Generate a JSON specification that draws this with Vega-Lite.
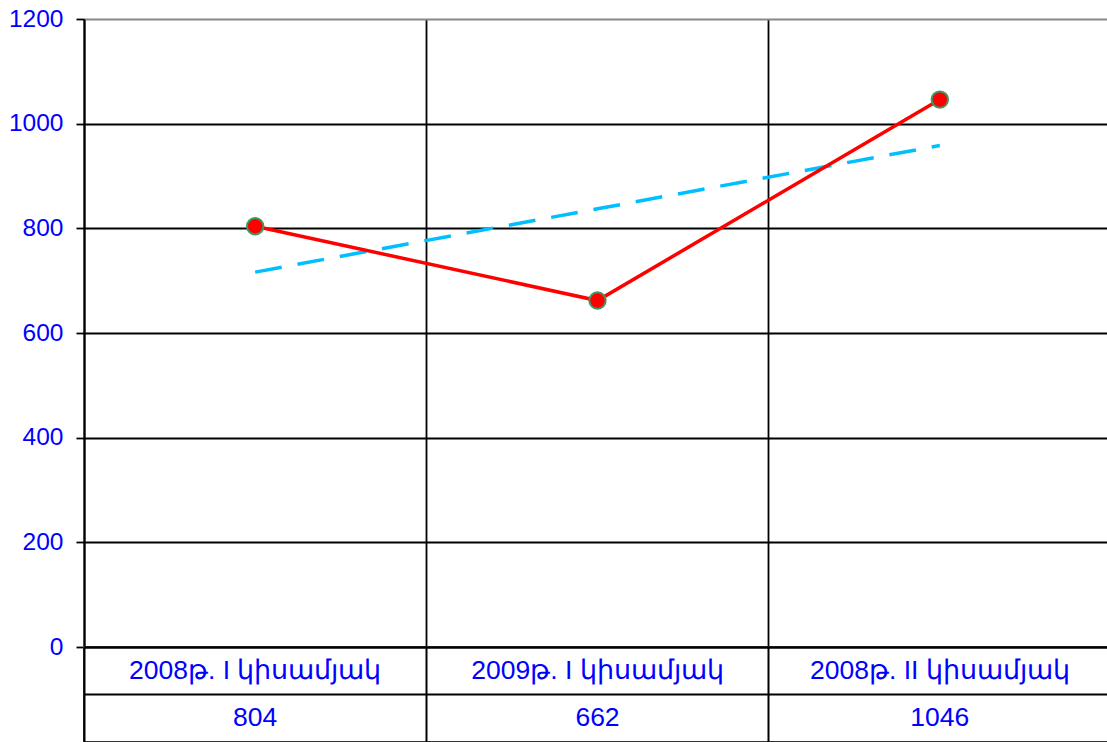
{
  "$schema": "https://vega.github.io/schema/vega-lite/v6.json",
  "padding": {"left": 0, "top": 6, "right": 0, "bottom": 0},
  "background": "white",
  "spacing": 0,
  "bounds": "flush",
  "config": {
    "font": "Liberation Sans",
    "concat": {"spacing": 0}
  },
  "datasets": {
    "series": [
      {"cat": "2008թ. I կիսամյակ", "value": 804, "trend": 716.3},
      {"cat": "2009թ. I կիսամյակ", "value": 662, "trend": 837.3},
      {"cat": "2008թ. II կիսամյակ", "value": 1046, "trend": 958.3}
    ],
    "table": [
      {"cat": "2008թ. I կիսամյակ", "row": "label", "text": "2008թ. I կիսամյակ"},
      {"cat": "2009թ. I կիսամյակ", "row": "label", "text": "2009թ. I կիսամյակ"},
      {"cat": "2008թ. II կիսամյակ", "row": "label", "text": "2008թ. II կիսամյակ"},
      {"cat": "2008թ. I կիսամյակ", "row": "value", "text": "804"},
      {"cat": "2009թ. I կիսամյակ", "row": "value", "text": "662"},
      {"cat": "2008թ. II կիսամյակ", "row": "value", "text": "1046"}
    ]
  },
  "vconcat": [
    {
      "width": 1027,
      "height": 628,
      "view": {"stroke": null},
      "data": {"name": "series"},
      "encoding": {
        "x": {
          "field": "cat",
          "type": "nominal",
          "sort": null,
          "bandPosition": 0.5,
          "scale": {"type": "band", "paddingInner": 0, "paddingOuter": 0},
          "axis": {
            "title": null, "labels": false, "ticks": false, "domain": false,
            "grid": true, "bandPosition": 0, "gridColor": "#000000", "gridWidth": 1.8, "gridOpacity": 1
          }
        }
      },
      "layer": [
        {
          "mark": {"type": "line", "color": "#00BFFF", "strokeWidth": 3.5, "strokeDash": [27, 16]},
          "encoding": {
            "y": {
              "field": "trend", "type": "quantitative",
              "scale": {"domain": [0, 1200], "nice": false, "zero": true},
              "axis": {
                "title": null,
                "values": [0, 200, 400, 600, 800, 1000, 1200],
                "format": "d",
                "labelColor": "#0000FF",
                "labelFontSize": 24.5,
                "labelFont": "Liberation Sans",
                "labelPadding": 13,
                "tickSize": 8,
                "tickColor": "#000000",
                "tickWidth": 1.8,
                "domainColor": "#000000",
                "domainWidth": 2,
                "grid": true,
                "gridColor": {"condition": {"test": "datum.value === 1200", "value": "#888888"}, "value": "#000000"},
                "gridWidth": 1.8,
                "gridOpacity": 1,
                "minExtent": 83,
                "maxExtent": 83
              }
            }
          }
        },
        {
          "mark": {"type": "line", "color": "#FF0000", "strokeWidth": 3.5},
          "encoding": {"y": {"field": "value", "type": "quantitative"}}
        },
        {
          "mark": {"type": "point", "filled": true, "fill": "#FF0000", "stroke": "#3A9A60", "strokeWidth": 2, "size": 270, "opacity": 1, "shape": "circle"},
          "encoding": {"y": {"field": "value", "type": "quantitative"}}
        }
      ]
    },
    {
      "width": 1027,
      "height": 95,
      "view": {"stroke": "#333333", "strokeWidth": 2},
      "data": {"name": "table"},
      "mark": {"type": "text", "color": "#0000FF", "fontSize": 26.5, "font": "Liberation Sans", "baseline": "middle", "align": "center"},
      "encoding": {
        "x": {
          "field": "cat",
          "type": "nominal",
          "sort": ["2008թ. I կիսամյակ", "2009թ. I կիսամյակ", "2008թ. II կիսամյակ"],
          "bandPosition": 0.5,
          "scale": {"type": "band", "paddingInner": 0, "paddingOuter": 0},
          "axis": {
            "title": null, "labels": false, "ticks": false, "domain": false,
            "grid": true, "bandPosition": 0, "gridColor": "#000000", "gridWidth": 2, "gridOpacity": 1
          }
        },
        "y": {
          "field": "row",
          "type": "nominal",
          "sort": ["label", "value"],
          "bandPosition": 0.5,
          "scale": {"type": "band", "paddingInner": 0, "paddingOuter": 0},
          "axis": {
            "title": null, "labels": false, "ticks": false, "domain": false,
            "grid": true, "bandPosition": 0, "gridColor": "#000000", "gridWidth": 2, "gridOpacity": 1,
            "minExtent": 83, "maxExtent": 83
          }
        },
        "text": {"field": "text"}
      }
    }
  ]
}
